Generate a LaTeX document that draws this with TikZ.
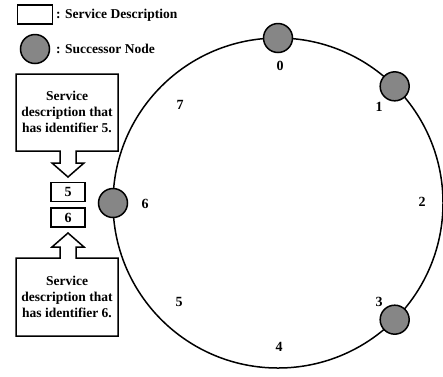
\documentclass[tikz,border=0pt]{standalone}
\usepackage{fontspec}
\setmainfont{Liberation Serif}
\begin{document}
\begin{tikzpicture}[x=1pt,y=-1pt,
  txt/.style={font=\bfseries\fontsize{13.5}{15}\selectfont, inner sep=0pt},
  lbl/.style={font=\bfseries\fontsize{14}{16}\selectfont, inner sep=0pt},
  succ/.style={circle, draw=black, fill=gray!95!white, line width=1.5pt, minimum size=29pt, inner sep=0pt, outer sep=0pt},
  sdbox/.style={draw=black, line width=1.5pt, fill=white, minimum width=34pt, minimum height=19pt, inner sep=0pt},
  callout/.style={draw=black, line width=1.5pt, fill=white, line join=miter},
  ctext/.style={font=\bfseries\fontsize{13.5}{16}\selectfont, align=center, inner sep=0pt}
]
\useasboundingbox (0,0) rectangle (443,376);
% ring
\node[circle, draw=black, line width=1.5pt, minimum size=330pt, inner sep=0pt, outer sep=0pt] (ring) at (278,203) {};
% successor nodes
\node[succ] (n0) at (ring.90) {};
\node[succ] (n1) at (ring.45) {};
\node[succ] (n3) at (ring.-45) {};
\node[succ] (n6) at (ring.180) {};
% identifiers
\node[lbl] (l0) at (280,66) {0};
\node[lbl] (l1) at (379,107) {1};
\node[lbl] (l2) at (422,202) {2};
\node[lbl] (l3) at (379,302) {3};
\node[lbl] (l4) at (279,347) {4};
\node[lbl] (l5) at (179,302) {5};
\node[lbl] (l6) at (145,204) {6};
\node[lbl] (l7) at (180,105) {7};
% legend
\node[sdbox, minimum width=35pt, minimum height=19pt] (legbox) at (35,14.5) {};
\node[txt, anchor=west] (legboxt) at (56,15) {: Service Description};
\node[succ] (legnode) at (35,49) {};
\node[txt, anchor=west] (legnodet) at (56,49) {: Successor Node};
% service description boxes
\node[sdbox] (b5) at (68,192) {\bfseries\fontsize{14}{16}\selectfont 5};
\node[sdbox] (b6) at (68,217.5) {\bfseries\fontsize{14}{16}\selectfont 6};
% top callout
\draw[callout] (16,74) -- (118,74) -- (118,151) -- (76,151) -- (76,163) -- (84,163)
  -- (68,177) -- (52,163) -- (60,163) -- (60,151) -- (16,151) -- cycle;
\node[ctext] (c5) at (67,112) {Service\\description that\\has identifier 5.};
% bottom callout
\draw[callout] (16,336) -- (118,336) -- (118,258) -- (76,258) -- (76,247) -- (84,247)
  -- (68,233) -- (52,247) -- (60,247) -- (60,258) -- (16,258) -- cycle;
\node[ctext] (c6) at (67,297) {Service\\description that\\has identifier 6.};
\end{tikzpicture}
\end{document}
